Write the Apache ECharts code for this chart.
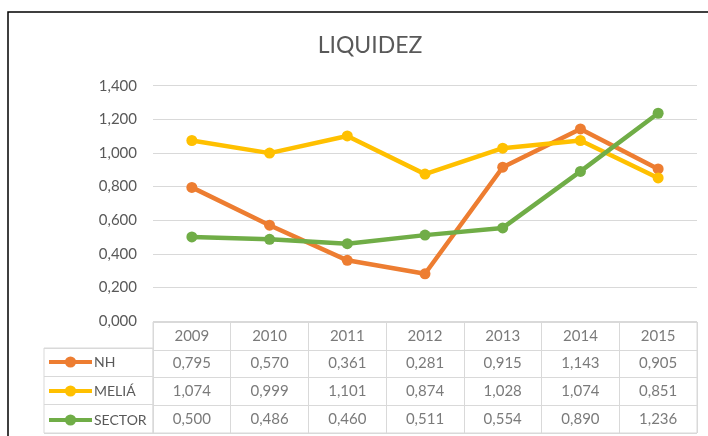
<!DOCTYPE html>
<html>
<head>
<meta charset="utf-8">
<script src="https://cdn.jsdelivr.net/npm/echarts@6/dist/echarts.min.js"></script>
<style>
  html, body { margin: 0; padding: 0; background: #fff; }
  #chart { width: 708px; height: 436px; }
</style>
</head>
<body>
<div id="chart"></div>
<script>
const years = ['2009', '2010', '2011', '2012', '2013', '2014', '2015']
const nh = [0.795, 0.570, 0.361, 0.281, 0.915, 1.143, 0.905]
const melia = [1.074, 0.999, 1.101, 0.874, 1.028, 1.074, 0.851]
const sector = [0.500, 0.486, 0.460, 0.511, 0.554, 0.890, 1.236]
const seriesNames = ['NH', 'MELIÁ', 'SECTOR']
const colors = ['#ED7D31', '#FFC000', '#70AD47']

const textColor = '#595959'
const gridColor = '#d9d9d9'
const font = 'Lato, "Open Sans", sans-serif'

// numeros con coma decimal, 3 decimales
const fmt = v => v.toFixed(3).replace('.', ',')

const allValues = [nh, melia, sector]

// celdas de la tabla: fila 0 = años, filas 1..3 = valores
const tableCells = []
years.forEach((y, i) => {
  tableCells.push([i, 0, y])
})
allValues.forEach((arr, r) => {
  arr.forEach((v, i) => {
    tableCells.push([i, r + 1, fmt(v)])
  })
})

const chart = echarts.init(document.getElementById('chart'))

const lineSeries = allValues.map((arr, k) => ({
  name: seriesNames[k],
  type: 'line',
  xAxisIndex: 0,
  yAxisIndex: 0,
  data: arr,
  symbol: 'circle',
  symbolSize: 11,
  lineStyle: { width: 4.5, color: colors[k] },
  itemStyle: { color: colors[k] },
  z: 3 + k
}))

const option = {
  animation: false,
  textStyle: { fontFamily: font },
  title: {
    text: 'LIQUIDEZ',
    left: 365,
    textAlign: 'center',
    top: 29,
    textStyle: { fontSize: 23, fontWeight: 'normal', color: textColor, fontFamily: font }
  },
  legend: {
    data: seriesNames,
    orient: 'vertical',
    left: 42,
    top: 350,
    itemWidth: 43,
    itemHeight: 14,
    itemGap: 15,
    lineStyle: { width: 4 },
    textStyle: { fontSize: 14, color: textColor, fontFamily: font, padding: [0, 0, 0, -3] },
    selectedMode: false
  },
  graphic: [
    {
      type: 'rect',
      shape: { x: 8, y: 12, width: 760, height: 500 },
      style: { fill: 'none', stroke: '#000', lineWidth: 1.5 },
      silent: true
    }
  ],
  grid: [
    { left: 153, right: 11, top: 85.7, bottom: 115 },
    { left: 153, right: 11, top: 322, bottom: 3, show: true, borderColor: gridColor, borderWidth: 1 },
    { left: 44, width: 109, top: 348, bottom: 3, show: true, borderColor: gridColor, borderWidth: 1 }
  ],
  xAxis: [
    {
      gridIndex: 0,
      type: 'category',
      data: years,
      boundaryGap: true,
      axisLine: { show: false },
      axisTick: { show: false },
      axisLabel: { show: false },
      splitLine: { show: false }
    },
    {
      gridIndex: 1,
      type: 'category',
      data: years,
      boundaryGap: true,
      axisLine: { show: false },
      axisTick: { show: false },
      axisLabel: { show: false },
      splitLine: { show: true, interval: 0, lineStyle: { color: gridColor, width: 1 } }
    },
    {
      gridIndex: 2,
      type: 'value',
      show: false
    }
  ],
  yAxis: [
    {
      gridIndex: 0,
      type: 'value',
      min: 0,
      max: 1.4,
      interval: 0.2,
      axisLine: { show: false },
      axisTick: { show: false },
      axisLabel: {
        formatter: v => fmt(v),
        color: textColor,
        fontSize: 15,
        margin: 16,
        fontFamily: font
      },
      splitLine: { lineStyle: { color: gridColor, width: 1 } }
    },
    {
      gridIndex: 1,
      type: 'category',
      data: ['', ...seriesNames],
      inverse: true,
      axisLine: { show: false },
      axisTick: { show: false },
      axisLabel: { show: false },
      splitLine: { show: true, interval: 0, lineStyle: { color: gridColor, width: 1 } }
    },
    {
      gridIndex: 2,
      type: 'category',
      data: seriesNames,
      inverse: true,
      axisLine: { show: false },
      axisTick: { show: false },
      axisLabel: { show: false },
      splitLine: { show: true, interval: 0, lineStyle: { color: gridColor, width: 1 } }
    }
  ],
  series: [
    ...lineSeries,
    {
      name: 'tabla',
      type: 'scatter',
      xAxisIndex: 1,
      yAxisIndex: 1,
      data: tableCells,
      symbolSize: 1,
      itemStyle: { color: 'rgba(0,0,0,0)' },
      silent: true,
      label: {
        show: true,
        position: 'inside',
        formatter: p => p.value[2],
        color: textColor,
        fontSize: 15,
        fontFamily: font
      }
    }
  ]
}

chart.setOption(option)
</script>
</body>
</html>
